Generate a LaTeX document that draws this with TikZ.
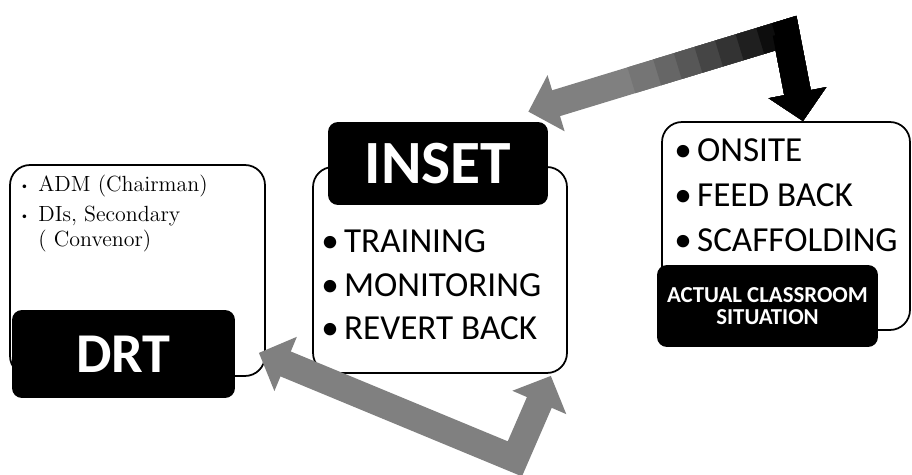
\documentclass[tikz,border=0pt]{standalone}
\usepackage{fontspec}
\newfontfamily\calib{Carlito}
\usetikzlibrary{positioning,arrows.meta,calc}
\newcommand{\listdot}{\makebox[0.42cm][l]{\hspace{1pt}\raisebox{1.5pt}{\scriptsize\textbullet}}}
\newcommand{\bigdot}{\textbullet\hspace{3pt}}

\begin{document}
\begin{tikzpicture}[x=0.02cm, y=-0.02cm,
  frame/.style={draw, line width=1pt, rounded corners=0.4cm, inner sep=0pt},
  head/.style={fill=black, text=white, rounded corners=0.2cm, inner sep=0pt, align=center},
  sitem/.style={anchor=base west, inner sep=0pt, font=\calib\fontsize{20}{24}\selectfont},
  ritem/.style={anchor=base west, inner sep=0pt, align=left, font=\fontsize{12.5}{14}\selectfont},
  fat/.style={line width=0.54cm, line join=miter,
    arrows={Triangle[length=0.58cm,width=1.14cm]-Triangle[length=0.58cm,width=1.14cm]}},
  fatend/.style={line width=0.54cm, line join=miter, arrows={-Triangle[length=0.58cm,width=1.14cm]}}]

\path[use as bounding box, fill=white] (0,0) rectangle (912,475);

\node[frame, minimum width=5.1cm, minimum height=4.22cm] (drtbox) at (137.5,270.5) {};
\node[frame, minimum width=5.08cm, minimum height=4.12cm] (insetbox) at (440,270) {};
\node[frame, minimum width=4.96cm, minimum height=4.16cm] (actbox) at (786,226) {};

\node[head, minimum width=4.46cm, minimum height=1.76cm,
  font=\calib\bfseries\fontsize{32}{32}\selectfont] (drthead) at (123.5,354) {DRT};
\node[head, minimum width=4.4cm, minimum height=1.66cm,
  font=\calib\bfseries\fontsize{35}{35}\selectfont] (insethead) at (438,163.5) {INSET};
\node[head, minimum width=4.42cm, minimum height=1.64cm,
  font=\calib\bfseries\fontsize{13}{12.5}\selectfont] (acthead) at (767.5,306) {ACTUAL CLASSROOM\\SITUATION};

\node[ritem] (adm) at (17,192) {\listdot ADM (Chairman)};
\node[ritem, anchor=north west] (dis) at (17,206)
  {\listdot DIs, Secondary\\\hspace*{0.42cm}( Convenor)};

\node[sitem] (train) at (321,253) {\bigdot TRAINING};
\node[sitem] (monit) at (321,297) {\bigdot MONITORING};
\node[sitem] (revert) at (321,340) {\bigdot REVERT BACK};

\node[sitem] (onsite) at (674,162) {\bigdot ONSITE};
\node[sitem] (feed) at (674,207) {\bigdot FEED BACK};
\node[sitem] (scaff) at (674,252) {\bigdot SCAFFOLDING};

\coordinate (a1s) at ([shift={(-20,-10)}]insethead.north east);
\coordinate (a1c) at ([shift={(0,-88)}]actbox.north);
\coordinate (a1e) at ([shift={(17,0)}]actbox.north);
\coordinate (a2s) at ([shift={(-7,-24)}]drtbox.south east);
\coordinate (a2c) at ([shift={(-53,85)}]insetbox.south east);
\coordinate (a2e) at ([shift={(-17,2)}]insetbox.south east);

\draw[fat, black!50] (a1s) -- (a1c) -- (a1e);
\foreach \p/\k in {0.4/54,0.5/60,0.58/66,0.66/73,0.74/80,0.82/88,0.9/95,0.96/100}
  \draw[fatend, black!\k] ($(a1s)!\p!(a1c)$) -- (a1c) -- (a1e);
\draw[fat, black!50] (a2s) -- (a2c) -- (a2e);
\end{tikzpicture}
\end{document}
